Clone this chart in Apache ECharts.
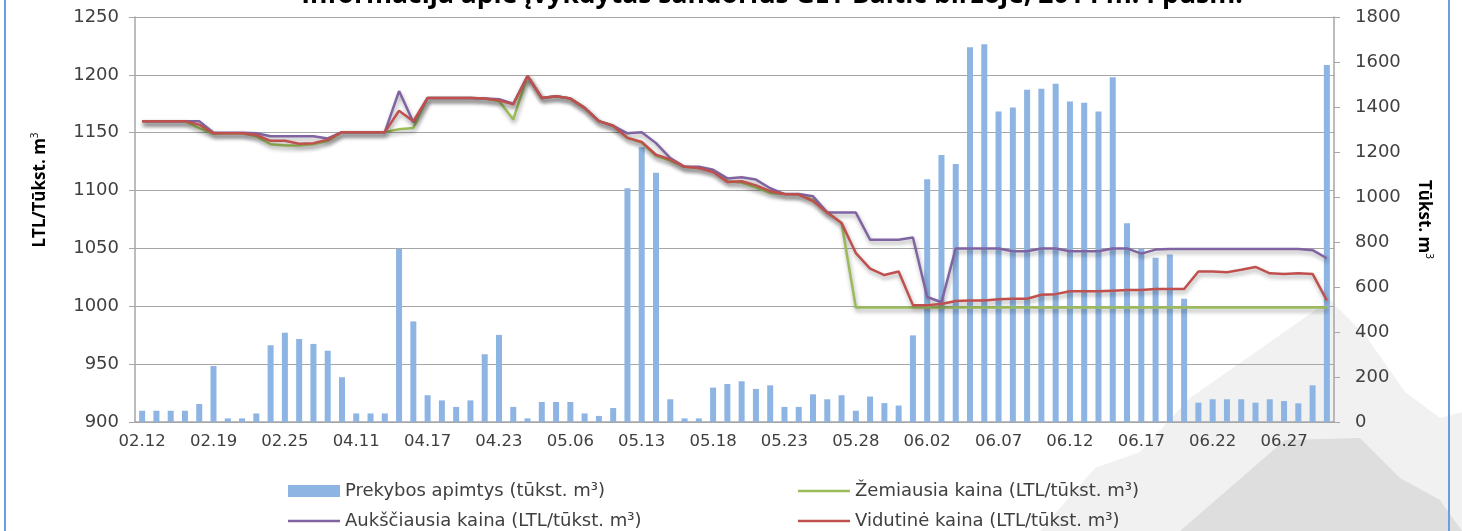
<!DOCTYPE html>
<html>
<head>
<meta charset="utf-8">
<script src="https://cdn.jsdelivr.net/npm/echarts@6/dist/echarts.min.js"></script>
<style>
  html, body { margin: 0; padding: 0; background: #fff; }
  #chart { width: 1462px; height: 531px; }
</style>
</head>
<body>
<div id="chart"></div>
<script>
// dienos (prekybos sesijos)
var categories = [
  "02.12", "02.13", "02.14", "02.17", "02.18",
  "02.19", "02.20", "02.21", "02.22", "02.24",
  "02.25", "02.26", "02.27", "02.28", "04.10",
  "04.11", "04.12", "04.14", "04.15", "04.16",
  "04.17", "04.18", "04.19", "04.21", "04.22",
  "04.23", "04.24", "04.25", "04.28", "04.30",
  "05.06", "05.07", "05.08", "05.09", "05.12",
  "05.13", "05.14", "05.15", "05.16", "05.17",
  "05.18", "05.19", "05.20", "05.21", "05.22",
  "05.23", "05.24", "05.25", "05.26", "05.27",
  "05.28", "05.29", "05.30", "05.31", "06.01",
  "06.02", "06.03", "06.04", "06.05", "06.06",
  "06.07", "06.08", "06.09", "06.10", "06.11",
  "06.12", "06.13", "06.14", "06.15", "06.16",
  "06.17", "06.18", "06.19", "06.20", "06.21",
  "06.22", "06.23", "06.24", "06.25", "06.26",
  "06.27", "06.28", "06.29", "06.30"
];

// Prekybos apimtys (tūkst. m3) - dešinė ašis
var volume = [
  50, 50, 50, 50, 80,
  249, 16, 16, 38, 341,
  397, 369, 347, 317, 199,
  38, 38, 38, 769, 447,
  119, 96, 67, 96, 301,
  387, 67, 16, 89, 89,
  89, 38, 27, 62, 1039,
  1221, 1108, 101, 16, 16,
  153, 169, 181, 147, 163,
  67, 67, 123, 101, 119,
  50, 113, 84, 73, 385,
  1079, 1187, 1147, 1666, 1679,
  1380, 1398, 1477, 1481, 1503,
  1425, 1419, 1380, 1532, 883,
  770, 730, 745, 548, 86,
  101, 101, 101, 86, 101,
  93, 83, 163, 1587
];

// Žemiausia kaina
var minPrice = [
  1160, 1160, 1160, 1160, 1154,
  1149, 1149.5, 1149.5, 1147, 1140,
  1139, 1139, 1140, 1143, 1150.5,
  1150.5, 1150.5, 1150.5, 1153, 1154,
  1180, 1180, 1180, 1180, 1179.5,
  1177.5, 1161.5, 1199, 1180, 1181.5,
  1179.5, 1171.5, 1160, 1156, 1145.5,
  1141.5, 1130, 1126, 1120.5, 1119.5,
  1117, 1108, 1107, 1102.5, 1098,
  1097, 1096.5, 1092, 1081, 1072,
  999, 999, 999, 999, 999,
  999, 999, 999, 999, 999,
  999, 999, 999, 999, 999,
  999, 999, 999, 999, 999,
  999, 999, 999, 999, 999,
  999, 999, 999, 999, 999,
  999, 999, 999, 999
];

// Aukščiausia kaina
var maxPrice = [
  1160, 1160, 1160, 1160, 1160,
  1150, 1150, 1150, 1149.5, 1147,
  1147, 1147, 1147, 1145, 1150.5,
  1150.5, 1150.5, 1150.5, 1186, 1159,
  1180, 1180, 1180, 1180, 1179.5,
  1179, 1175, 1199, 1180, 1181.5,
  1179.5, 1171.5, 1160, 1156, 1149.5,
  1150.5, 1141, 1128, 1120.5, 1120.5,
  1118, 1110.5, 1111.5, 1109.5, 1102,
  1097, 1097, 1095, 1081, 1081,
  1081, 1057.5, 1057.5, 1057.5, 1059.5,
  1008, 1003.5, 1050, 1050, 1050,
  1050, 1047.5, 1047.5, 1050, 1050,
  1047.5, 1047.5, 1047.5, 1050, 1050,
  1045.5, 1049, 1049.5, 1049.5, 1049.5,
  1049.5, 1049.5, 1049.5, 1049.5, 1049.5,
  1049.5, 1049.5, 1048.5, 1041.5
];

// Vidutinė kaina
var avgPrice = [
  1160, 1160, 1160, 1160, 1157,
  1149.5, 1149.5, 1149.5, 1148, 1143,
  1143, 1140.5, 1141, 1144, 1150.5,
  1150.5, 1150.5, 1150.5, 1169, 1160,
  1180, 1180, 1180, 1180, 1179.5,
  1178, 1174.5, 1199, 1180, 1181.5,
  1179.5, 1171.5, 1160, 1156, 1145.5,
  1142, 1131, 1127, 1120.5, 1119.5,
  1116, 1107.5, 1108, 1104.5, 1099.5,
  1097, 1096.5, 1091, 1081, 1072,
  1046, 1032.5, 1027, 1030, 1001,
  1001, 1002, 1004.5, 1005, 1005,
  1006, 1006.5, 1006.5, 1010, 1010.5,
  1013, 1013, 1013, 1013.5, 1014,
  1014, 1015, 1015, 1015, 1030,
  1030, 1029.5, 1031.5, 1034, 1028.5,
  1028, 1028.5, 1028, 1005
];

var FONT = '"DejaVu Sans", sans-serif';
var FONT_B = '"Open Sans", sans-serif';
var TXT = "#404040";
var AXIS = "#a6a6a6";

var NAMES = {
  vol: "Prekybos apimtys (tūkst. m³)",
  min: "Žemiausia kaina (LTL/tūkst. m³)",
  max: "Aukščiausia kaina (LTL/tūkst. m³)",
  avg: "Vidutinė kaina (LTL/tūkst. m³)"
};

var chart = echarts.init(document.getElementById("chart"));

// linijos su šešėliu, kaip Excel'yje
function lineSeries(name, data, color) {
  return {
    name: name,
    type: "line",
    yAxisIndex: 0,
    data: data,
    symbol: "none",
    lineStyle: {
      color: color,
      width: 2.5,
      shadowColor: "rgba(0,0,0,0.35)",
      shadowBlur: 4,
      shadowOffsetX: 1,
      shadowOffsetY: 3
    },
    itemStyle: { color: color }
  };
}

// viena legendos eilutė = vienas įrašas
function legendItem(name, left, top, h) {
  return {
    left: left, top: top, padding: 0,
    itemWidth: 52, itemHeight: h, icon: "rect", itemGap: 6,
    textStyle: { fontFamily: FONT, fontSize: 18, color: TXT },
    data: [name]
  };
}

var supRich = {
  a: { fontFamily: FONT_B, fontSize: 17, color: "#000", fontWeight: "bold", lineHeight: 20 },
  s: { fontFamily: FONT_B, fontSize: 10, color: "#000", verticalAlign: "top", lineHeight: 20 }
};

function plain(v) { return String(v); }

var option = {
  backgroundColor: "#fff",
  animation: false,
  textStyle: { fontFamily: FONT },
  title: {
    text: "Informacija apie įvykdytas sandorius GET Baltic biržoje, 2014 m. I pusm.",
    left: 767,
    textAlign: "center",
    top: -23,
    textStyle: { fontFamily: FONT_B, fontSize: 26.5, fontWeight: "bold", color: "#000" }
  },
  graphic: [
    {
      type: "polygon", z: -10, silent: true,
      shape: { points: [[1040, 531], [1095, 468], [1140, 452], [1190, 398], [1330, 300], [1365, 335], [1405, 392], [1440, 418], [1462, 412], [1462, 531]] },
      style: { fill: "#f1f1f1" }
    },
    {
      type: "polygon", z: -9, silent: true,
      shape: { points: [[1180, 531], [1285, 440], [1360, 438], [1400, 478], [1440, 500], [1462, 531]] },
      style: { fill: "#dedede" }
    },
    { type: "rect", shape: { x: 4, y: 0, width: 2, height: 531 }, style: { fill: "#6d9de0" }, silent: true },
    { type: "rect", shape: { x: 1448, y: 0, width: 2, height: 531 }, style: { fill: "#6d9de0" }, silent: true },
    // kairės ašies pavadinimas
    {
      type: "text", x: 40, y: 190, rotation: Math.PI / 2, silent: true,
      style: { text: "{a|LTL/Tūkst. m}{s|3}", rich: supRich, align: "center", verticalAlign: "middle" }
    }
  ],
  grid: { left: 135, right: 128, top: 17, bottom: 109 },
  legend: [
    legendItem(NAMES.vol, 288, 482, 12),
    legendItem(NAMES.min, 798, 482, 2.5),
    legendItem(NAMES.max, 288, 512, 2.5),
    legendItem(NAMES.avg, 798, 512, 2.5)
  ],
  xAxis: {
    type: "category",
    data: categories,
    boundaryGap: true,
    axisLine: { lineStyle: { color: AXIS, width: 1.5 } },
    axisTick: { interval: 4, length: 6, lineStyle: { color: AXIS } },
    axisLabel: { interval: 4, fontSize: 16.5, color: TXT, margin: 11, fontFamily: FONT }
  },
  yAxis: [
    {
      type: "value",
      min: 900, max: 1250, interval: 50,
      axisLine: { show: true, lineStyle: { color: AXIS, width: 1.5 } },
      axisTick: { show: true, length: 6, lineStyle: { color: AXIS } },
      axisLabel: { fontSize: 18, color: TXT, margin: 16, fontFamily: FONT, formatter: plain },
      splitLine: { lineStyle: { color: "#a6a6a6", width: 1.2 } }
    },
    {
      type: "value",
      min: 0, max: 1800, interval: 200,
      name: "{a|Tūkst. m}{s|3}",
      nameLocation: "middle",
      nameRotate: -90,
      nameGap: 80,
      nameTextStyle: { rich: supRich },
      axisLine: { show: true, lineStyle: { color: AXIS, width: 1.5 } },
      axisTick: { show: true, length: 6, lineStyle: { color: AXIS } },
      axisLabel: { fontSize: 18, color: TXT, margin: 21, fontFamily: FONT, formatter: plain },
      splitLine: { show: false }
    }
  ],
  series: [
    {
      name: NAMES.vol,
      type: "bar",
      yAxisIndex: 1,
      data: volume,
      barWidth: 6,
      itemStyle: { color: "#8db4e2" }
    },
    lineSeries(NAMES.min, minPrice, "#9bbb59"),
    lineSeries(NAMES.max, maxPrice, "#8064a2"),
    lineSeries(NAMES.avg, avgPrice, "#c0504d")
  ]
};

chart.setOption(option);
</script>
</body>
</html>
